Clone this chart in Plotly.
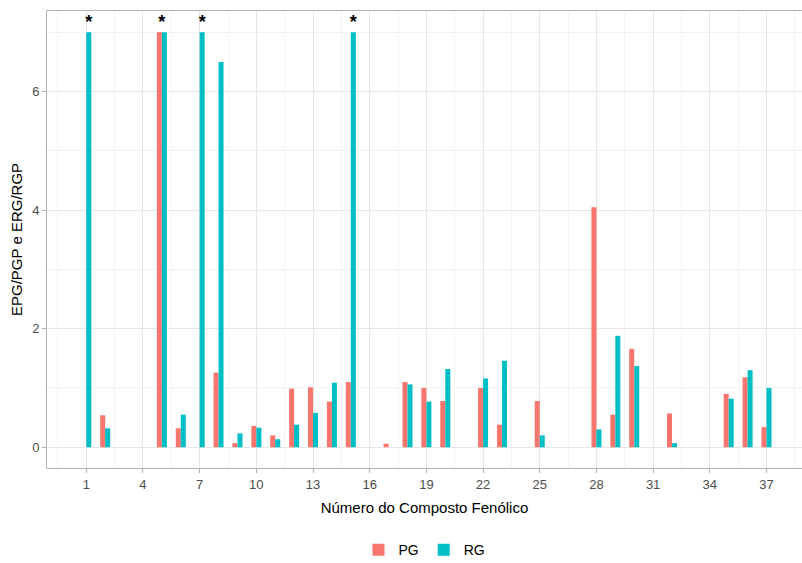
import plotly.graph_objects as go

compounds = list(range(1, 38))
pg = [None, 0.54, None, None, 7.0, 0.32, None, 1.26, 0.07, 0.36,
      0.20, 0.99, 1.01, 0.77, 1.10, None, 0.06, 1.10, 1.00, 0.78,
      None, 1.00, 0.38, None, 0.78, None, None, 4.05, 0.55, 1.66,
      None, 0.57, None, None, 0.90, 1.18, 0.34]
rg = [7.0, 0.32, None, None, 7.0, 0.55, 7.0, 6.50, 0.235, 0.33,
      0.135, 0.38, 0.58, 1.09, 7.0, None, None, 1.06, 0.77, 1.32,
      None, 1.16, 1.46, None, 0.20, None, None, 0.30, 1.88, 1.37,
      None, 0.07, None, None, 0.82, 1.30, 1.00]
capped = [1, 5, 7, 15]  # values above the axis limit, marked with *
cap_value = 7.0
x_ticks = list(range(1, 38, 3))

PG_COLOR = "#F8766D"
RG_COLOR = "#00BFC4"

bargap = 0.47
half = (1 - bargap) / 4  # offset of each dodged bar from the category centre

star_x = []
star_y = []
for c in capped:
    i = compounds.index(c)
    both = pg[i] is not None and pg[i] >= cap_value and rg[i] is not None and rg[i] >= cap_value
    star_x.append(c if both else c + half)
    star_y.append(cap_value)

fig = go.Figure()
fig.add_trace(go.Bar(x=compounds, y=pg, name="PG", marker_color=PG_COLOR,
                     marker_line_width=0))
fig.add_trace(go.Bar(x=compounds, y=rg, name="RG", marker_color=RG_COLOR,
                     marker_line_width=0))
fig.add_trace(go.Scatter(x=star_x, y=star_y, mode="text", text=["<b>*</b>"] * len(star_x),
                         textposition="top center", showlegend=False,
                         textfont=dict(size=18, color="black", family="Liberation Sans, Arial")))

grid_major = "#e6e6e6"
grid_minor = "#f3f3f3"
border = "#b3b3b3"

fig.update_layout(
    width=802, height=563,
    barmode="group", bargap=bargap, bargroupgap=0,
    paper_bgcolor="white", plot_bgcolor="white",
    margin=dict(l=47, r=0, t=11, b=95, autoexpand=False),
    font=dict(family="Liberation Sans, Arial", color="#4d4d4d", size=13),
    legend=dict(orientation="h", x=0.5, xanchor="center", y=-0.18, yanchor="middle",
                font=dict(size=14, color="black"), traceorder="normal",
                itemwidth=30, tracegroupgap=0),
    xaxis=dict(range=[-1.08, 38.88], tickmode="array", tickvals=x_ticks,
               ticktext=[str(t) for t in x_ticks], automargin=False,
               showgrid=True, gridcolor=grid_major, gridwidth=1,
               minor=dict(tickmode="array", tickvals=[t + 1.5 for t in [-2] + x_ticks],
                          showgrid=True, gridcolor=grid_minor, gridwidth=1, ticks=""),
               zeroline=False, showline=True, linecolor=border, linewidth=1, mirror=True,
               ticks="outside", ticklen=4, tickcolor=border,
               tickfont=dict(size=13, color="#4d4d4d"),
               title=dict(text="Número do Composto Fenólico", standoff=11,
                          font=dict(size=15, color="black"))),
    yaxis=dict(range=[-0.35, 7.36], tickmode="array", tickvals=[0, 2, 4, 6],
               showgrid=True, gridcolor=grid_major, gridwidth=1, automargin=False,
               minor=dict(tickmode="array", tickvals=[1, 3, 5, 7],
                          showgrid=True, gridcolor=grid_minor, gridwidth=1, ticks=""),
               zeroline=False, showline=True, linecolor=border, linewidth=1, mirror=True,
               ticks="outside", ticklen=4, tickcolor=border,
               tickfont=dict(size=13, color="#4d4d4d"),
               title=dict(text="EPG/PGP e ERG/RGP", standoff=5,
                          font=dict(size=15, color="black"))),
)

fig.write_html("out.html", config={"displayModeBar": False},
               post_script="document.body.style.margin='0';document.body.style.overflow='hidden';")
